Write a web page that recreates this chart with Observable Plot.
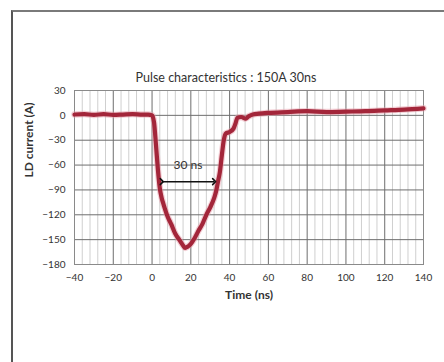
<!DOCTYPE html>
<html>
<head>
<meta charset="utf-8">
<script src="https://cdn.jsdelivr.net/npm/d3@7"></script>
<script src="https://cdn.jsdelivr.net/npm/@observablehq/plot@0.6"></script>
<style>
  html, body { margin: 0; padding: 0; background: #fff; }
  #wrap { position: relative; width: 444px; height: 362px; overflow: hidden; }
  #border { position: absolute; left: 11px; top: 10px; width: 500px; height: 400px;
            border-top: 2px solid #7a7a7a; border-left: 2px solid #555; }
  #chart { position: absolute; left: 0; top: 0; }
</style>
</head>
<body>
<div id="wrap"><div id="border"></div><div id="chart"></div></div>
<script>
const title = "Pulse characteristics : 150A 30ns";
const xLabel = "Time (ns)";
const yLabel = "LD current (A)";
const xTicks = [-40, -20, 0, 20, 40, 60, 80, 100, 120, 140];
const yTicks = [30, 0, -30, -60, -90, -120, -150, -180];

const time = [-40, -35, -30, -25, -20, -15, -10, -5, -2, 0, 1, 2, 3, 4, 5, 6, 8, 10, 12, 14, 16, 17, 18, 20, 22, 24, 26, 28, 30, 32, 33, 34, 35, 36, 37, 38, 40, 42, 43, 44, 46, 48, 50, 52, 55, 60, 70, 80, 90, 100, 110, 120, 130, 140];
const current = [1, 1.5, 0.5, 1.5, 0.5, 1, 1.5, 1, 1, 0, -8, -35, -65, -88, -100, -108, -122, -132, -143, -150, -157, -160, -159, -155, -148, -139, -131, -120, -111, -100, -92, -80, -68, -48, -30, -22, -20, -16, -10, -3, -2, -4, -1, 1, 2, 3, 4, 5, 4, 4.5, 5, 6, 7, 8.5];

const arrowX1 = [5];
const arrowX2 = [32];
const arrowY = [-80];
const arrowText = ["30 ns"];
const arrowTextX = [18.5];
const arrowTextY = [-60];

const data = time.map((t, i) => ({t, c: current[i]}));
const minorX = d3.range(-40, 141, 4).filter(v => v % 20 !== 0);

const chart = Plot.plot({
  width: 444,
  height: 362,
  marginLeft: 74,
  marginRight: 21,
  marginTop: 90,
  marginBottom: 98,
  style: { fontFamily: "Lato, 'Open Sans', sans-serif", fontSize: "10px", color: "#333", background: "transparent" },
  x: { domain: [-40, 140], ticks: xTicks, tickSize: 0, tickPadding: 9, label: null },
  y: { domain: [-180, 30], ticks: yTicks, tickSize: 0, tickPadding: 10, label: null },
  marks: [
    Plot.ruleX(minorX, { stroke: "#cfcfcf", strokeWidth: 1 }),
    Plot.ruleX(xTicks, { stroke: "#6e6e6e", strokeWidth: 1 }),
    Plot.ruleY(yTicks, { stroke: "#6e6e6e", strokeWidth: 1 }),
    Plot.frame({ stroke: "#8a8a8a" }),
    Plot.axisX({ ticks: xTicks, tickSize: 0, tickPadding: 9, fill: "#333", fontSize: 10 }),
    Plot.axisY({ ticks: yTicks, tickSize: 0, tickPadding: 9, fill: "#333", fontSize: 10 }),
    Plot.line(data, { x: "t", y: "c", stroke: "#e8a0ac", strokeWidth: 6.5, strokeOpacity: 0.5, curve: "monotone-x" }),
    Plot.line(data, { x: "t", y: "c", stroke: "#a3263a", strokeWidth: 4.2, curve: "monotone-x" }),
    Plot.link(arrowY, { x1: arrowX1, x2: arrowX2, y1: d => d, y2: d => d, stroke: "#111", strokeWidth: 1.5, markerStart: "arrow", markerEnd: "arrow" }),
    Plot.text(arrowText, { x: arrowTextX, y: arrowTextY, text: d => d, fontSize: 12, fill: "#333" }),
    Plot.text([title], { frameAnchor: "top", dy: -17, dx: -23, fontSize: 12.5, fill: "#333" }),
    Plot.text([xLabel], { frameAnchor: "bottom", dy: 34, fontSize: 12, fontWeight: "bold", fill: "#333" }),
    Plot.text([yLabel], { frameAnchor: "left", dx: -45, rotate: -90, fontSize: 12, fontWeight: "bold", fill: "#333" })
  ]
});
document.getElementById("chart").appendChild(chart);
</script>
</body>
</html>
